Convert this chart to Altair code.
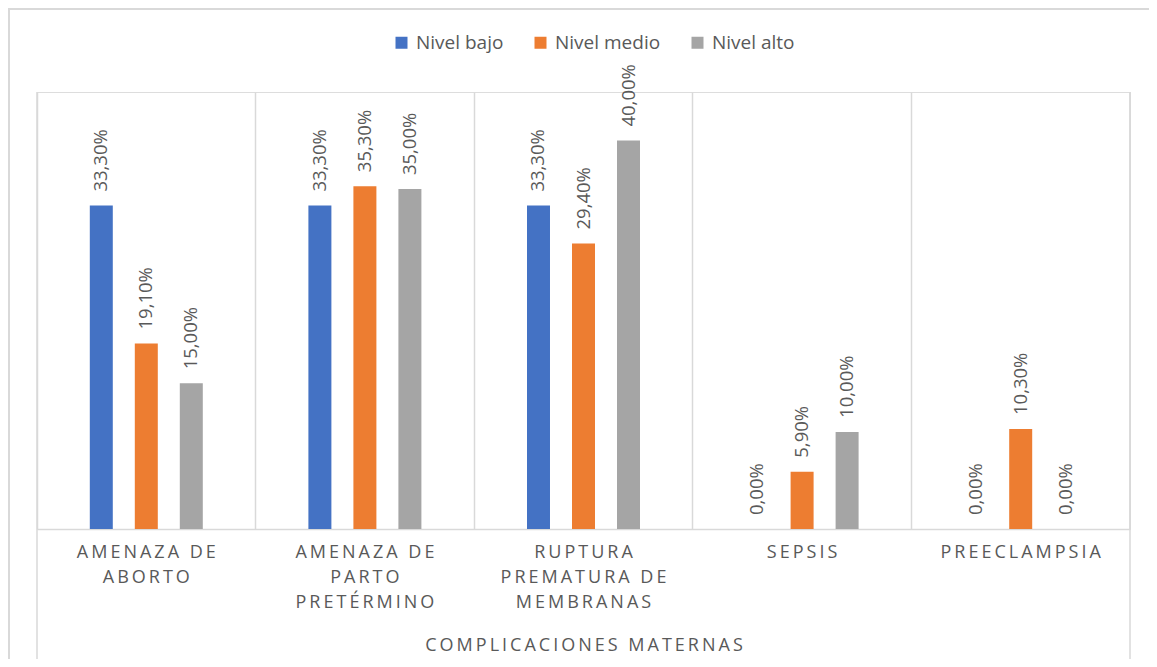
import altair as alt
import pandas as pd

categories = ["AMENAZA DE ABORTO", "AMENAZA DE PARTO PRETÉRMINO",
              "RUPTURA PREMATURA DE MEMBRANAS", "SEPSIS", "PREECLAMPSIA"]
label_lines = ["AMENAZA DE|ABORTO", "AMENAZA DE|PARTO|PRETÉRMINO",
               "RUPTURA|PREMATURA DE|MEMBRANAS", "SEPSIS", "PREECLAMPSIA"]
series = ["Nivel bajo", "Nivel medio", "Nivel alto"]
bajo = [33.3, 33.3, 33.3, 0.0, 0.0]
medio = [19.1, 35.3, 29.4, 5.9, 10.3]
alto = [15.0, 35.0, 40.0, 10.0, 0.0]
colors = ["#4472C4", "#ED7D31", "#A5A5A5"]
axis_title = "COMPLICACIONES MATERNAS"

SP = "\u2006"


def spaced(s):
    return "|".join(SP.join(list(part)) for part in s.split("|"))


rows = []
for i, cat in enumerate(categories):
    for s, vals in zip(series, [bajo, medio, alto]):
        v = vals[i]
        rows.append({
            "cat": spaced(label_lines[i]),
            "serie": s,
            "valor": v,
            "etiqueta": f"{v:.2f}".replace(".", ",") + "%",
        })
df = pd.DataFrame(rows)
cat_order = [spaced(l) for l in label_lines]

W, H = 1093, 437
TEXT = "#595959"
LINE = "#D9D9D9"
FONT = "Open Sans"

x_enc = alt.X("cat:N", sort=cat_order,
              scale=alt.Scale(paddingInner=0, paddingOuter=0),
              axis=alt.Axis(title=spaced(axis_title), bandPosition=0,
                            grid=True, gridColor=LINE, gridWidth=1.5,
                            domainColor=LINE, domainWidth=1.5, ticks=False,
                            labelAngle=0, labelFontSize=18, labelColor=TEXT,
                            labelFont=FONT, labelLineHeight=25,
                            labelPadding=14, labelBaseline="top",
                            labelLimit=0,
                            labelExpr="split(datum.label, '|')",
                            titleFontSize=18, titleFont=FONT,
                            titleFontWeight="normal", titleColor=TEXT,
                            titleY=116, titleBaseline="middle"))
xo_enc = alt.XOffset("serie:N", sort=series,
                     scale=alt.Scale(range=[52.8, 165.8], paddingInner=0.489,
                                     paddingOuter=0))
y_enc = alt.Y("valor:Q", scale=alt.Scale(domain=[0, 45]), axis=None)

bars = alt.Chart(df).mark_bar().encode(
    x=x_enc, xOffset=xo_enc, y=y_enc,
    color=alt.Color("serie:N", sort=series,
                    scale=alt.Scale(domain=series, range=colors),
                    legend=alt.Legend(title=None, orient="none",
                                      direction="horizontal",
                                      legendX=355, legendY=-59,
                                      symbolType="square", symbolSize=144,
                                      symbolStrokeWidth=0,
                                      labelFontSize=19, labelFont=FONT,
                                      labelColor=TEXT, columnPadding=27,
                                      labelOffset=5)),
)

labels = alt.Chart(df).mark_text(
    angle=270, align="left", baseline="middle", dx=14,
    fontSize=18.5, font=FONT, color=TEXT,
).encode(x=x_enc, xOffset=xo_enc, y=y_enc, text="etiqueta:N")

one = pd.DataFrame({"k": [0]})
right_edge = alt.Chart(one).mark_rule(color=LINE, strokeWidth=1.5).encode(
    x=alt.value(W), y=alt.value(0), y2=alt.value(H))
outer_left = alt.Chart(one).mark_rule(color=LINE, strokeWidth=1.5).encode(
    x=alt.value(0), y=alt.value(0), y2=alt.value(567))
outer_right = alt.Chart(one).mark_rule(color=LINE, strokeWidth=1.5).encode(
    x=alt.value(W), y=alt.value(0), y2=alt.value(567))
border_left = alt.Chart(one).mark_rule(color=LINE, strokeWidth=2).encode(
    x=alt.value(-28), y=alt.value(-84), y2=alt.value(567))
border_top = alt.Chart(one).mark_rule(color=LINE, strokeWidth=2).encode(
    x=alt.value(-29), x2=alt.value(W + 19), y=alt.value(-83))

chart = alt.layer(bars, labels, right_edge, outer_left, outer_right,
                  border_left, border_top).properties(
    width=W, height=H,
    autosize=alt.AutoSizeParams(type="none"),
    padding={"left": 29, "top": 84, "right": 19, "bottom": 130},
).configure_view(stroke=None).configure(font=FONT)

chart.save("out.html", embed_options={"renderer": "svg", "actions": False})
